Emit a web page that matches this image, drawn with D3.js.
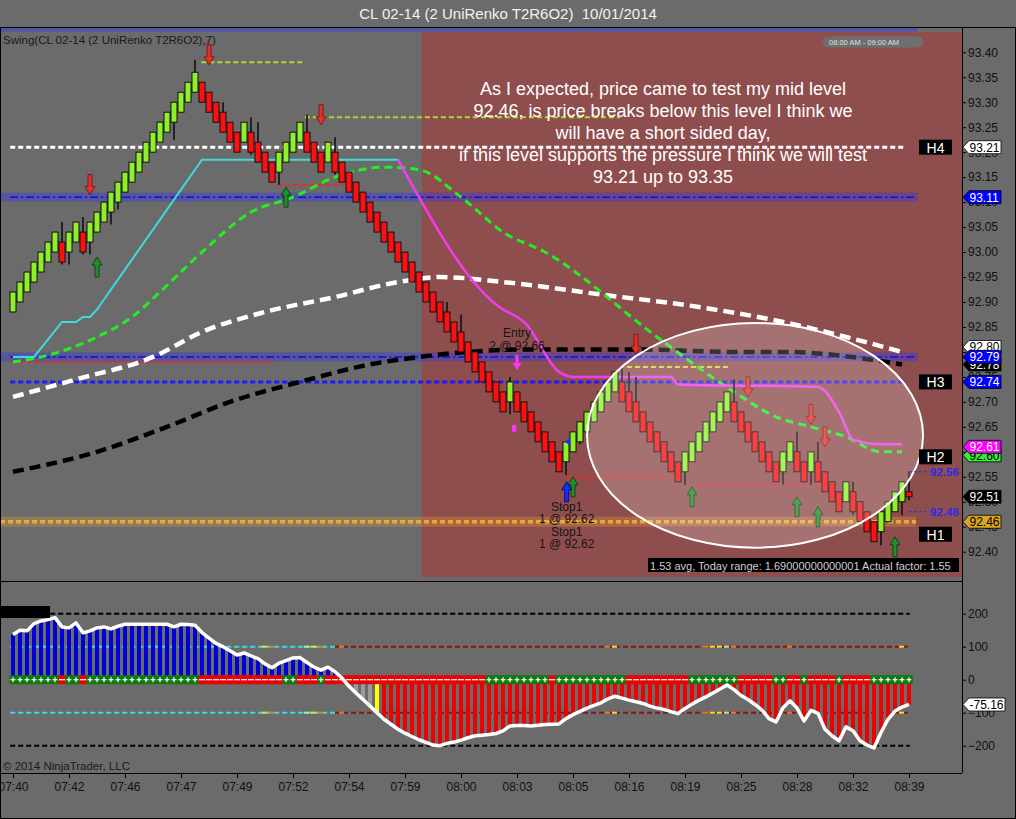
<!DOCTYPE html>
<html>
<head>
<meta charset="utf-8">
<script src="https://d3js.org/d3.v7.min.js"></script>
<style>
body{margin:0;background:#6b6b6b;}
svg{display:block;font-family:"Liberation Sans",Arial,sans-serif;}
</style>
</head>
<body>
<script>
//---- data ----
var timeLabels = ["07:40","07:42","07:46","07:47","07:49","07:52","07:54","07:59","08:00","08:03","08:05","08:16","08:19","08:25","08:28","08:32","08:39"];
var priceTicks = [93.40,93.35,93.30,93.25,93.20,93.15,93.10,93.05,93.00,92.95,92.90,92.85,92.80,92.75,92.70,92.65,92.60,92.55,92.50,92.45,92.40];
var cciTicks = [200,100,0,-100,-200];

//close of every UniRenko brick (brick body = 0.04, step 0.02)
var closes = [92.92,92.94,92.96,92.98,93.00,93.02,93.04,92.98,93.04,93.06,
    93.00,93.06,93.08,93.10,93.12,93.14,93.16,93.18,93.20,93.22,
    93.24,93.26,93.28,93.30,93.32,93.34,93.36,93.30,93.28,93.26,
    93.24,93.22,93.20,93.26,93.20,93.18,93.16,93.14,93.20,93.22,
    93.24,93.26,93.20,93.18,93.16,93.22,93.16,93.14,93.12,93.10,
    93.08,93.06,93.04,93.02,93.00,92.98,92.96,92.94,92.92,92.90,
    92.88,92.86,92.84,92.82,92.80,92.78,92.76,92.74,92.72,92.70,
    92.68,92.74,92.68,92.66,92.64,92.62,92.60,92.58,92.56,92.62,
    92.64,92.66,92.68,92.70,92.72,92.74,92.76,92.70,92.68,92.66,
    92.64,92.62,92.60,92.58,92.56,92.54,92.60,92.62,92.64,92.66,
    92.68,92.70,92.72,92.66,92.64,92.62,92.60,92.58,92.56,92.54,
    92.60,92.62,92.56,92.54,92.60,92.54,92.52,92.50,92.48,92.54,
    92.48,92.46,92.44,92.42,92.48,92.50,92.52,92.54,92.51];
var lastOpen = 92.52;
var brickSize = 0.04;

//[bar, high, low]
var wicks = [[7,93.06,92.975],[8,93.04,92.975],[10,93.07,92.995],[11,93.06,92.995],[14,93.12,93.055],
    [15,93.14,93.085],[23,93.30,93.225],[26,93.385,93.32],[30,93.30,93.24],[34,93.27,93.195],
    [35,93.26,93.18],[38,93.20,93.135],[42,93.275,93.20],[46,93.23,93.155],[62,92.90,92.84],
    [64,92.875,92.80],[71,92.75,92.675],[79,92.62,92.553],[81,92.66,92.615],[82,92.68,92.624],
    [87,92.77,92.70],[88,92.76,92.68],[89,92.75,92.66],[96,92.60,92.534],[103,92.745,92.66],
    [110,92.60,92.534],[112,92.64,92.56],[114,92.60,92.534],[115,92.62,92.54],[120,92.54,92.474],
    [124,92.48,92.413],[127,92.54,92.473],[128,92.56,92.503]];

//moving averages and swing lines, [bar, price]
var whiteMA = [[0,92.71],[9,92.745],[20,92.79],[27,92.84],[36,92.88],[46,92.91],[55,92.94],[61,92.95],[70,92.94],[84,92.915],[98,92.89],[110,92.86],[119,92.83],[127,92.80]];
var blackMA = [[0,92.56],[12,92.60],[22,92.65],[31,92.70],[41,92.74],[51,92.775],[58,92.79],[65,92.80],[74,92.805],[89,92.805],[103,92.80],[110,92.80],[127,92.775]];
var greenMA = [[0,92.78],[4,92.79],[12,92.83],[17,92.87],[21,92.92],[27,93.00],[34,93.08],[40,93.11],[46,93.15],[53,93.17],[58,93.165],[64,93.11],[70,93.04],[76,93.00],[92,92.83],[103,92.72],[109,92.67],[114,92.65],[119,92.63],[124,92.60],[127,92.60]];
var cyanSwing = [[0,92.79],[3,92.79],[7,92.86],[9,92.86],[10,92.87],[11,92.87],[12,92.885],[27,93.185],[55,93.185]];
var magentaSwing = [[55,93.185],[70,92.885],[72,92.87],[73,92.86],[78,92.76],[80,92.75],[94,92.75],[95,92.735],[115,92.73],[118,92.68],[120,92.625],[124,92.615],[127,92.615]];

//signal arrows [bar, tip price]
var downArrows = [[28,93.375],[11,93.115],[44,93.255],[89,92.795],[105,92.71],[114,92.655],[116,92.61]];
var upArrows = [[12,92.99],[39,93.13],[80,92.55],[97,92.53],[112,92.51],[115,92.49],[126,92.43]];

//horizontal levels
var topLevel = 93.445;
var bandLevels = [93.11, 92.79];
var h4Level = 93.21, h3Level = 92.74, midLevel = 92.46;
var hLabels = [["H4",93.21],["H3",92.74],["H2",92.59],["H1",92.435]];
var swingHighs = [[93.38,26.9,41.3],[93.27,41.7,86.7]];   //[price, from bar, to bar]
var swingLow = [[92.78,-0.4,37.4],[93.135,37.7,47.4],[92.55,78.9,95.3],[92.535,97.7,115.7]];
var targetLine = [92.77,87.7,102.4];
var sideLabels = [92.56, 92.48];

//CCI panel
var cci = [137,150,148,170,178,182,188,160,157,172,
    142,148,157,160,154,162,168,168,168,168,
    168,168,168,160,168,167,165,143,126,110,
    100,88,75,81,72,64,48,36,50,58,
    66,67,52,38,29,38,24,5,-20,-40,
    -60,-80,-100,-120,-135,-150,-162,-172,-182,-190,
    -198,-200,-193,-189,-183,-176,-170,-168,-166,-163,
    -155,-140,-139,-139,-140,-138,-136,-135,-134,-118,
    -106,-96,-86,-78,-70,-58,-50,-56,-62,-67,
    -72,-80,-86,-90,-97,-103,-87,-74,-62,-52,
    -40,-28,-16,-30,-48,-60,-75,-92,-118,-128,
    -85,-64,-86,-125,-93,-102,-150,-170,-185,-143,
    -155,-185,-198,-207,-160,-120,-95,-83,-75];
var greyHist = [48,49,50,51];
var yellowHist = [52];
var zeroUp = [[0,6],[8,9],[11,26],[39,40],[44,44],[68,76],[78,87],[97,103],[109,110],[113,113],[118,118],[123,128]];
var cciMarks = [[36,"y"],[37,"o"],[42,"g"],[43,"y"],[44,"o"],[47,"o"],[85,"o"],[86,"y"],[99,"o"],[100,"y"],[101,"y"],[102,"g"],[103,"o"],[111,"o"],[127,"y"]];
var cyanUntil = 46;

//---- canvas ----
var W = 1016, H = 819;
var svg = d3.select("body").append("svg").attr("width", W).attr("height", H);
svg.append("rect").attr("width", W).attr("height", H).attr("fill", "#6b6b6b");

var x = d3.scaleLinear().domain([0, 128]).range([13, 909]);
var y = d3.scaleLinear().domain([92.40, 93.40]).range([551.7, 52.3]);
var yc = d3.scaleLinear().domain([-200, 200]).range([745.7, 613.7]);

var defs = svg.append("defs");
defs.append("clipPath").attr("id", "clipTop").append("rect")
    .attr("x", 0).attr("y", 28).attr("width", 962).attr("height", 550);
defs.append("clipPath").attr("id", "clipBot").append("rect")
    .attr("x", 0).attr("y", 582).attr("width", 962).attr("height", 191);

var upper = svg.append("g").attr("clip-path", "url(#clipTop)");
var lower = svg.append("g").attr("clip-path", "url(#clipBot)");

//session shading 08:00 - 09:00
upper.append("rect")
    .attr("x", x(58.4)).attr("y", 32)
    .attr("width", 962 - x(58.4)).attr("height", 545)
    .attr("fill", "#8f4e4e");

//blue/purple bands
upper.append("rect").attr("x", 0).attr("width", x(129.2))
    .attr("y", y(topLevel) - 1.8).attr("height", 3.6)
    .attr("fill", "rgba(60,60,220,0.5)");
bandLevels.forEach(function(p){
    upper.append("rect").attr("x", 0).attr("width", x(129.2))
        .attr("y", y(p) - 4.5).attr("height", 9)
        .attr("fill", "rgba(60,60,220,0.45)");
    upper.append("line").attr("x1", x(-0.4)).attr("x2", x(129.2))
        .attr("y1", y(p)).attr("y2", y(p))
        .attr("stroke", "#1010d8").attr("stroke-width", 1.5)
        .attr("stroke-dasharray", "8,3,2,3");
});

//orange mid level
upper.append("rect").attr("x", 0).attr("width", x(129))
    .attr("y", y(midLevel) - 5).attr("height", 10)
    .attr("fill", "rgba(235,165,50,0.3)");
upper.append("line").attr("x1", 0).attr("x2", x(129))
    .attr("y1", y(midLevel)).attr("y2", y(midLevel))
    .attr("stroke", "#e8a83a").attr("stroke-width", 3.5).attr("stroke-dasharray", "5,3");

//H4 / H3 dashed
upper.append("line").attr("x1", x(-0.4)).attr("x2", x(127.4))
    .attr("y1", y(h4Level)).attr("y2", y(h4Level))
    .attr("stroke", "#fff").attr("stroke-width", 3).attr("stroke-dasharray", "5,3");
upper.append("line").attr("x1", x(-0.4)).attr("x2", x(127.4))
    .attr("y1", y(h3Level)).attr("y2", y(h3Level))
    .attr("stroke", "#1a1aff").attr("stroke-width", 3).attr("stroke-dasharray", "5,3");

//swing dashed segments
swingHighs.forEach(function(d){
    upper.append("line").attr("x1", x(d[1])).attr("x2", x(d[2]))
        .attr("y1", y(d[0])).attr("y2", y(d[0]))
        .attr("stroke", "#b4d532").attr("stroke-width", 2).attr("stroke-dasharray", "5,3");
});
swingLow.forEach(function(d){
    upper.append("line").attr("x1", x(d[1])).attr("x2", x(d[2]))
        .attr("y1", y(d[0])).attr("y2", y(d[0]))
        .attr("stroke", "#e82a2a").attr("stroke-width", 2).attr("stroke-dasharray", "5,3");
});
upper.append("line").attr("x1", x(targetLine[1])).attr("x2", x(targetLine[2]))
    .attr("y1", y(targetLine[0])).attr("y2", y(targetLine[0]))
    .attr("stroke", "#d8d040").attr("stroke-width", 2).attr("stroke-dasharray", "5,3");

//moving averages
var smooth = d3.line().x(function(d){ return x(d[0]); }).y(function(d){ return y(d[1]); }).curve(d3.curveMonotoneX);
var straight = d3.line().x(function(d){ return x(d[0]); }).y(function(d){ return y(d[1]); });

upper.append("path").attr("d", smooth(blackMA)).attr("fill", "none")
    .attr("stroke", "#000").attr("stroke-width", 4.5).attr("stroke-dasharray", "11,6");
upper.append("path").attr("d", smooth(whiteMA)).attr("fill", "none")
    .attr("stroke", "#fff").attr("stroke-width", 4.5).attr("stroke-dasharray", "11,6");
upper.append("path").attr("d", smooth(greenMA)).attr("fill", "none")
    .attr("stroke", "#22ee22").attr("stroke-width", 3).attr("stroke-dasharray", "8,5");
upper.append("path").attr("d", straight(cyanSwing)).attr("fill", "none")
    .attr("stroke", "#3cdcdc").attr("stroke-width", 2);
upper.append("path").attr("d", smooth(magentaSwing)).attr("fill", "none")
    .attr("stroke", "#f23cf2").attr("stroke-width", 2.5);

//wicks then bricks
upper.selectAll(".wick").data(wicks).enter().append("line")
    .attr("class", "wick")
    .attr("x1", function(d){ return x(d[0]); }).attr("x2", function(d){ return x(d[0]); })
    .attr("y1", function(d){ return y(d[1]); }).attr("y2", function(d){ return y(d[2]); })
    .attr("stroke", "#111").attr("stroke-width", 1.6);

var bricks = closes.map(function(c, i){
    var prev = i > 0 ? closes[i - 1] : c - 0.02;
    var up = c > prev;
    var open = (i === closes.length - 1) ? lastOpen : (up ? c - brickSize : c + brickSize);
    return {i: i, open: open, close: c, up: c > open};
});
upper.selectAll(".brick").data(bricks).enter().append("rect")
    .attr("class", "brick")
    .attr("x", function(d){ return x(d.i) - 3; })
    .attr("width", 6)
    .attr("y", function(d){ return y(Math.max(d.open, d.close)); })
    .attr("height", function(d){ return Math.abs(y(d.open) - y(d.close)); })
    .attr("fill", function(d){ return d.up ? "#8ff02a" : "#ff1010"; })
    .attr("stroke", "#111").attr("stroke-width", 1);

//signal arrows
function arrowPath(tx, ty, dir){
    var s = dir; //1 = pointing down, -1 = pointing up
    return "M" + (tx - 2) + "," + (ty - 20 * s) + "L" + (tx + 2) + "," + (ty - 20 * s) +
        "L" + (tx + 2) + "," + (ty - 8 * s) + "L" + (tx + 5) + "," + (ty - 8 * s) +
        "L" + tx + "," + ty + "L" + (tx - 5) + "," + (ty - 8 * s) +
        "L" + (tx - 2) + "," + (ty - 8 * s) + "Z";
}
upper.selectAll(".dn").data(downArrows).enter().append("path")
    .attr("class", "dn")
    .attr("d", function(d){ return arrowPath(x(d[0]), y(d[1]), 1); })
    .attr("fill", "#e8302a").attr("stroke", "#6a1010").attr("stroke-width", 0.8);
upper.selectAll(".upa").data(upArrows).enter().append("path")
    .attr("class", "upa")
    .attr("d", function(d){ return arrowPath(x(d[0]), y(d[1]), -1); })
    .attr("fill", "#1f8f2a").attr("stroke", "#0a300a").attr("stroke-width", 0.8);

//trade markers
upper.append("path")
    .attr("d", "M" + (x(72) - 1.5) + "," + (y(92.764) - 15) + "h3v8h3l-4.5,7l-4.5,-7h3z")
    .attr("fill", "#ff33ff");
upper.append("rect").attr("x", x(71.6) - 2).attr("y", y(92.66) + 3).attr("width", 4).attr("height", 7)
    .attr("fill", "#ff33ff");
upper.append("path").attr("d", arrowPath(x(79.1), y(92.54), -1))
    .attr("fill", "#1030ff").attr("stroke", "#000060").attr("stroke-width", 0.8);
upper.append("path").attr("d", "M" + (x(79.3) - 3) + "," + y(92.62) + "l5,-4v8z")
    .attr("fill", "#1030ff");

//ellipse annotation
upper.append("ellipse")
    .attr("cx", x(106)).attr("cy", y(92.633))
    .attr("rx", x(24) - x(0)).attr("ry", y(92.40) - y(92.625))
    .attr("fill", "rgba(255,255,255,0.2)")
    .attr("stroke", "#fff").attr("stroke-width", 2);

//trade texts
var tradeText = [["Entry", 72, 337], ["2 @ 92.66", 72, 350], ["Stop1", 79.1, 511], ["1 @ 92.62", 79.1, 523],
    ["Stop1", 79.1, 536], ["1 @ 92.62", 79.1, 548]];
upper.selectAll(".tt").data(tradeText).enter().append("text")
    .attr("class", "tt")
    .attr("x", function(d){ return x(d[1]); }).attr("y", function(d){ return d[2]; })
    .attr("text-anchor", "middle").attr("font-size", 12).attr("fill", "#151515")
    .text(function(d){ return d[0]; });

//note
var note = ["As I expected, price came to test my mid level",
    "92.46, is price breaks below this level I think we",
    "will have a short sided day,",
    "if this level supports the pressure I think we will test",
    "93.21 up to 93.35"];
upper.selectAll(".note").data(note).enter().append("text")
    .attr("class", "note")
    .attr("x", 663).attr("y", function(d, i){ return 95 + i * 21.9; })
    .attr("text-anchor", "middle").attr("font-size", 18).attr("fill", "#fff")
    .text(function(d){ return d; });

//session box label
upper.append("rect").attr("x", 823).attr("y", 36.5).attr("width", 100).attr("height", 11).attr("rx", 5)
    .attr("fill", "#6e6e6e");
upper.append("text").attr("x", 864).attr("y", 45).attr("text-anchor", "middle")
    .attr("font-size", 7.5).attr("fill", "#e0e0e0").text("08:00 AM - 09:00 AM");

//info box
upper.append("rect").attr("x", 648).attr("y", 558).attr("width", 311).attr("height", 14).attr("fill", "#000");
upper.append("text").attr("x", 650).attr("y", 569.5).attr("font-size", 11).attr("fill", "#cfcfcf")
    .text("1.53 avg, Today range: 1.69000000000001  Actual factor: 1.55");

upper.append("text").attr("x", 3).attr("y", 44).attr("font-size", 11.5).attr("fill", "#1a1a1a")
    .text("Swing(CL 02-14 (2 UniRenko T2R6O2),7)");

//H labels and side labels
hLabels.forEach(function(d){
    svg.append("rect").attr("x", 919).attr("y", y(d[1]) - 7.5).attr("width", 33).attr("height", 15).attr("fill", "#000");
    svg.append("text").attr("x", 935.5).attr("y", y(d[1]) + 5.5).attr("text-anchor", "middle")
        .attr("font-size", 14).attr("fill", "#fff").text(d[0]);
});
sideLabels.forEach(function(p){
    svg.append("line").attr("x1", 909).attr("x2", 926).attr("y1", y(p)).attr("y2", y(p))
        .attr("stroke", "#2a2aee").attr("stroke-width", 1).attr("stroke-dasharray", "3,2");
    svg.append("text").attr("x", 930).attr("y", y(p) + 4).attr("font-size", 11.5).attr("font-weight", "bold")
        .attr("fill", "#2a2aee").text(p.toFixed(2));
});

//---- lower CCI panel ----
[200, -200].forEach(function(v){
    lower.append("line").attr("x1", x(-0.4)).attr("x2", x(128.1))
        .attr("y1", yc(v)).attr("y2", yc(v))
        .attr("stroke", "#000").attr("stroke-width", 2).attr("stroke-dasharray", "5,3");
});
[100, -100].forEach(function(v){
    lower.append("line").attr("x1", x(-0.4)).attr("x2", x(cyanUntil))
        .attr("y1", yc(v)).attr("y2", yc(v))
        .attr("stroke", "#33e0e8").attr("stroke-width", 2).attr("stroke-dasharray", "5,3");
    lower.append("line").attr("x1", x(cyanUntil)).attr("x2", x(128.1))
        .attr("y1", yc(v)).attr("y2", yc(v))
        .attr("stroke", "#8b1414").attr("stroke-width", 2).attr("stroke-dasharray", "5,3");
    var markColor = {y: "#f0e020", o: "#e87a20", g: "#a0f0a0"};
    cciMarks.forEach(function(m){
        lower.append("rect").attr("x", x(m[0]) - 3).attr("y", yc(v) - 1).attr("width", 5).attr("height", 2)
            .attr("fill", markColor[m[1]]);
    });
});

lower.selectAll(".hist").data(cci).enter().append("rect")
    .attr("class", "hist")
    .attr("x", function(d, i){ return x(i) - 2; })
    .attr("width", 4)
    .attr("y", function(d){ return Math.min(yc(d), yc(0)); })
    .attr("height", function(d){ return Math.abs(yc(d) - yc(0)); })
    .attr("fill", function(d, i){
        if (greyHist.indexOf(i) >= 0) return "#9a9a9a";
        if (yellowHist.indexOf(i) >= 0) return "#ffff00";
        return d >= 0 ? "#0000d8" : "#ee0000";
    });

//zero line trend cells
var isUp = cci.map(function(d, i){
    return zeroUp.some(function(r){ return i >= r[0] && i <= r[1]; });
});
lower.selectAll(".cell").data(isUp).enter().append("rect")
    .attr("class", "cell")
    .attr("x", function(d, i){ return x(i) - 3.5; })
    .attr("width", 7.2).attr("y", yc(0) - 4.5).attr("height", 9)
    .attr("fill", function(d){ return d ? "#0b7a0b" : "#ee0000"; });
isUp.forEach(function(d, i){
    lower.append("line").attr("x1", x(i) - (d ? 2.5 : 3)).attr("x2", x(i) + (d ? 2.5 : 3))
        .attr("y1", yc(0)).attr("y2", yc(0)).attr("stroke", "#fff").attr("stroke-width", 1.2);
    if (d) {
        lower.append("line").attr("x1", x(i)).attr("x2", x(i))
            .attr("y1", yc(0) - 2.5).attr("y2", yc(0) + 2.5).attr("stroke", "#fff").attr("stroke-width", 1.2);
    }
});

lower.append("path")
    .attr("d", d3.line().x(function(d, i){ return x(i); }).y(function(d){ return yc(d); })(cci))
    .attr("fill", "none").attr("stroke", "#fff").attr("stroke-width", 3.5).attr("stroke-linejoin", "round");

lower.append("rect").attr("x", 0).attr("y", 606).attr("width", 50).attr("height", 12).attr("fill", "#000");
lower.append("text").attr("x", 3).attr("y", 770).attr("font-size", 11.5).attr("fill", "#1a1a1a")
    .text("\u00a9 2014 NinjaTrader, LLC");

//---- axes ----
var yAxis = d3.axisRight(y).tickValues(priceTicks).tickSize(4).tickPadding(2).tickFormat(d3.format(".2f"));
var gy = svg.append("g").attr("transform", "translate(962,0)").call(yAxis);
gy.select(".domain").remove();
gy.attr("font-size", 12).attr("font-family", "Liberation Sans, Arial, sans-serif");
gy.selectAll("text").attr("fill", "#111");

var cAxis = d3.axisRight(yc).tickValues(cciTicks).tickSize(4).tickPadding(2);
var gc = svg.append("g").attr("transform", "translate(962,0)").call(cAxis);
gc.select(".domain").remove();
gc.attr("font-size", 12).attr("font-family", "Liberation Sans, Arial, sans-serif");
gc.selectAll("text").attr("fill", "#111");

var xAxis = d3.axisBottom(x).tickValues(d3.range(0, 129, 8)).tickSize(5).tickPadding(4)
    .tickFormat(function(d, i){ return timeLabels[i]; });
var gx = svg.append("g").attr("transform", "translate(0,773)").call(xAxis);
gx.select(".domain").remove();
gx.attr("font-size", 12).attr("font-family", "Liberation Sans, Arial, sans-serif");
gx.selectAll("text").attr("fill", "#111");

//frame lines
svg.append("line").attr("x1", 0).attr("x2", W).attr("y1", 27.5).attr("y2", 27.5).attr("stroke", "#000");
svg.append("line").attr("x1", 0).attr("x2", 962).attr("y1", 581.5).attr("y2", 581.5).attr("stroke", "#000");
svg.append("line").attr("x1", 0).attr("x2", 962).attr("y1", 773.5).attr("y2", 773.5).attr("stroke", "#000");
svg.append("line").attr("x1", 962.5).attr("x2", 962.5).attr("y1", 27).attr("y2", 773).attr("stroke", "#000");
svg.append("line").attr("x1", 0.5).attr("x2", 0.5).attr("y1", 27).attr("y2", 818).attr("stroke", "#000");
svg.append("line").attr("x1", 1015.5).attr("x2", 1015.5).attr("y1", 27).attr("y2", 818).attr("stroke", "#000");
svg.append("line").attr("x1", 0).attr("x2", W).attr("y1", 818.5).attr("y2", 818.5).attr("stroke", "#000");

//title
svg.append("text").attr("x", 508).attr("y", 18.5).attr("text-anchor", "middle")
    .attr("font-size", 15).attr("fill", "#f2f2f2")
    .text("CL 02-14 (2 UniRenko T2R6O2)  10/01/2014").style("white-space", "pre");

//---- price flags ----
function flag(price, label, fill, color, scale){
    var yy = scale(price);
    svg.append("path").attr("d", "M963," + yy + "l6,-6.5h" + (label.length > 5 ? 36 : 32) + "v13h-" + (label.length > 5 ? 36 : 32) + "z")
        .attr("fill", fill).attr("stroke", "#000").attr("stroke-width", 0.8);
    svg.append("text").attr("x", 969.5).attr("y", yy + 4.5).attr("font-size", 12)
        .attr("fill", color).text(label);
}
flag(93.21, "93.21", "#fff", "#000", y);
flag(93.11, "93.11", "#0000ff", "#fff", y);
flag(92.81, "92.80", "#fff", "#000", y);
flag(92.775, "92.78", "#000", "#fff", y);
flag(92.79, "92.79", "#0000ff", "#fff", y);
flag(92.74, "92.74", "#0000ff", "#fff", y);
flag(92.593, "92.60", "#33ee33", "#000", y);
flag(92.61, "92.61", "#ff00ff", "#fff", y);
flag(92.51, "92.51", "#000", "#fff", y);
flag(92.46, "92.46", "#daa520", "#000", y);
flag(-75.16, "-75.16", "#fff", "#000", yc);
</script>
</body>
</html>
